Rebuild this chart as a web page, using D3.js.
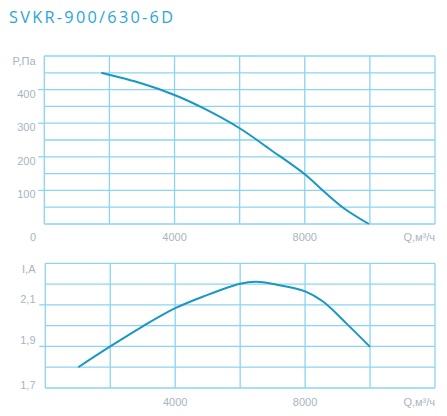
<!DOCTYPE html>
<html>
<head>
<meta charset="utf-8">
<script src="https://cdn.jsdelivr.net/npm/d3@7"></script>
<style>
  body { margin: 0; background: #fff; }
  svg { display: block; }
</style>
</head>
<body>
<svg id="chart" width="447" height="416"></svg>
<script>
// pressure curve P(Q)
const pressQ = [1750, 3000, 4000, 4900, 6000, 6950, 8000, 8600, 9200, 9970];
const pressP = [450, 418, 384, 344, 285, 221, 148, 96, 47, 0];
// current curve I(Q)
const currQ = [1015, 2000, 3015, 4000, 4860, 6000, 6500, 7120, 8000, 8550, 9270, 10000];
const currI = [1.8, 1.9, 1.998, 2.084, 2.14, 2.202, 2.211, 2.197, 2.165, 2.116, 2.011, 1.898];

const qTicks = [4000, 8000];
const pTicks = [100, 200, 300, 400];
const iTicks = [1.9, 2.1];

const gridColor = "#8ad4f2";
const lineColor = "#1b97c3";
const textColor = "#a7b4c1";
const font = "'Liberation Sans', Arial, sans-serif";

const svg = d3.select("#chart");

svg.append("text")
  .attr("x", 9).attr("y", 23.3)
  .attr("fill", "#2aa6d6")
  .attr("font-family", "'Open Sans', sans-serif")
  .attr("font-size", 16.3)
  .attr("textLength", 164)
  .attr("lengthAdjust", "spacing")
  .text("SVKR-900/630-6D");

function panel(opts) {
  const g = svg.append("g");
  const x = d3.scaleLinear().domain([0, 12000]).range([opts.left, 435]);
  const y = d3.scaleLinear().domain(opts.yDomain).range([opts.bottom, opts.top]);

  // vertical grid
  g.selectAll(".vg").data(d3.range(0, 12001, 2000)).enter().append("line")
    .attr("x1", d => x(d)).attr("x2", d => x(d))
    .attr("y1", opts.top).attr("y2", opts.bottom)
    .attr("stroke", gridColor).attr("stroke-width", 1.3);

  // horizontal grid
  g.selectAll(".hg").data(opts.hLines).enter().append("line")
    .attr("x1", opts.left).attr("x2", 435)
    .attr("y1", d => y(d)).attr("y2", d => y(d))
    .attr("stroke", gridColor).attr("stroke-width", 1.3);

  // small tick stubs on labelled values
  g.selectAll(".tk").data(opts.yTicks).enter().append("line")
    .attr("x1", opts.left - 6).attr("x2", opts.left)
    .attr("y1", d => y(d)).attr("y2", d => y(d))
    .attr("stroke", gridColor).attr("stroke-width", 1.3);

  // y labels
  g.selectAll(".yl").data(opts.yTicks).enter().append("text")
    .attr("x", 35.5).attr("y", d => y(d) + opts.labelDy)
    .attr("text-anchor", "end")
    .attr("fill", textColor).attr("font-family", font).attr("font-size", 11)
    .text(opts.fmt);

  // x labels
  g.selectAll(".xl").data(qTicks).enter().append("text")
    .attr("x", d => x(d)).attr("y", opts.xLabelY)
    .attr("text-anchor", "middle")
    .attr("fill", textColor).attr("font-family", font).attr("font-size", 11)
    .text(d => d);

  g.append("text")
    .attr("x", 435).attr("y", opts.xLabelY)
    .attr("text-anchor", "end")
    .attr("fill", textColor).attr("font-family", font).attr("font-size", 11)
    .text("Q,м³/ч");

  const line = d3.line()
    .x(d => x(d[0])).y(d => y(d[1]))
    .curve(d3.curveCatmullRom.alpha(0.5));

  g.append("path")
    .datum(d3.zip(opts.qs, opts.vs))
    .attr("d", line)
    .attr("fill", "none")
    .attr("stroke", lineColor)
    .attr("stroke-width", 2);

  return { g, x, y };
}

const pressPanel = panel({
  left: 44.3, top: 56, bottom: 224,
  yDomain: [0, 500],
  hLines: d3.range(0, 501, 50),
  yTicks: pTicks,
  labelDy: 8,
  fmt: d => d,
  xLabelY: 240.5,
  qs: pressQ, vs: pressP
});

pressPanel.g.append("text")
  .attr("x", 35.5).attr("y", 65)
  .attr("text-anchor", "end")
  .attr("fill", textColor).attr("font-family", font).attr("font-size", 11)
  .text("P,Па");
pressPanel.g.append("text")
  .attr("x", 33).attr("y", 240.5)
  .attr("text-anchor", "middle")
  .attr("fill", textColor).attr("font-family", font).attr("font-size", 11)
  .text("0");

const currPanel = panel({
  left: 45.3, top: 263.3, bottom: 388,
  yDomain: [1.7, 2.3],
  hLines: d3.range(0, 7).map(i => 1.7 + i * 0.1),
  yTicks: iTicks,
  labelDy: -2,
  fmt: d => d3.format(".1f")(d).replace(".", ","),
  xLabelY: 405.5,
  qs: currQ, vs: currI
});

currPanel.g.append("text")
  .attr("x", 35.5).attr("y", 273)
  .attr("text-anchor", "end")
  .attr("fill", textColor).attr("font-family", font).attr("font-size", 11)
  .text("I,A");
currPanel.g.append("text")
  .attr("x", 35.5).attr("y", 389)
  .attr("text-anchor", "end")
  .attr("fill", textColor).attr("font-family", font).attr("font-size", 11)
  .text("1,7");
</script>
</body>
</html>
